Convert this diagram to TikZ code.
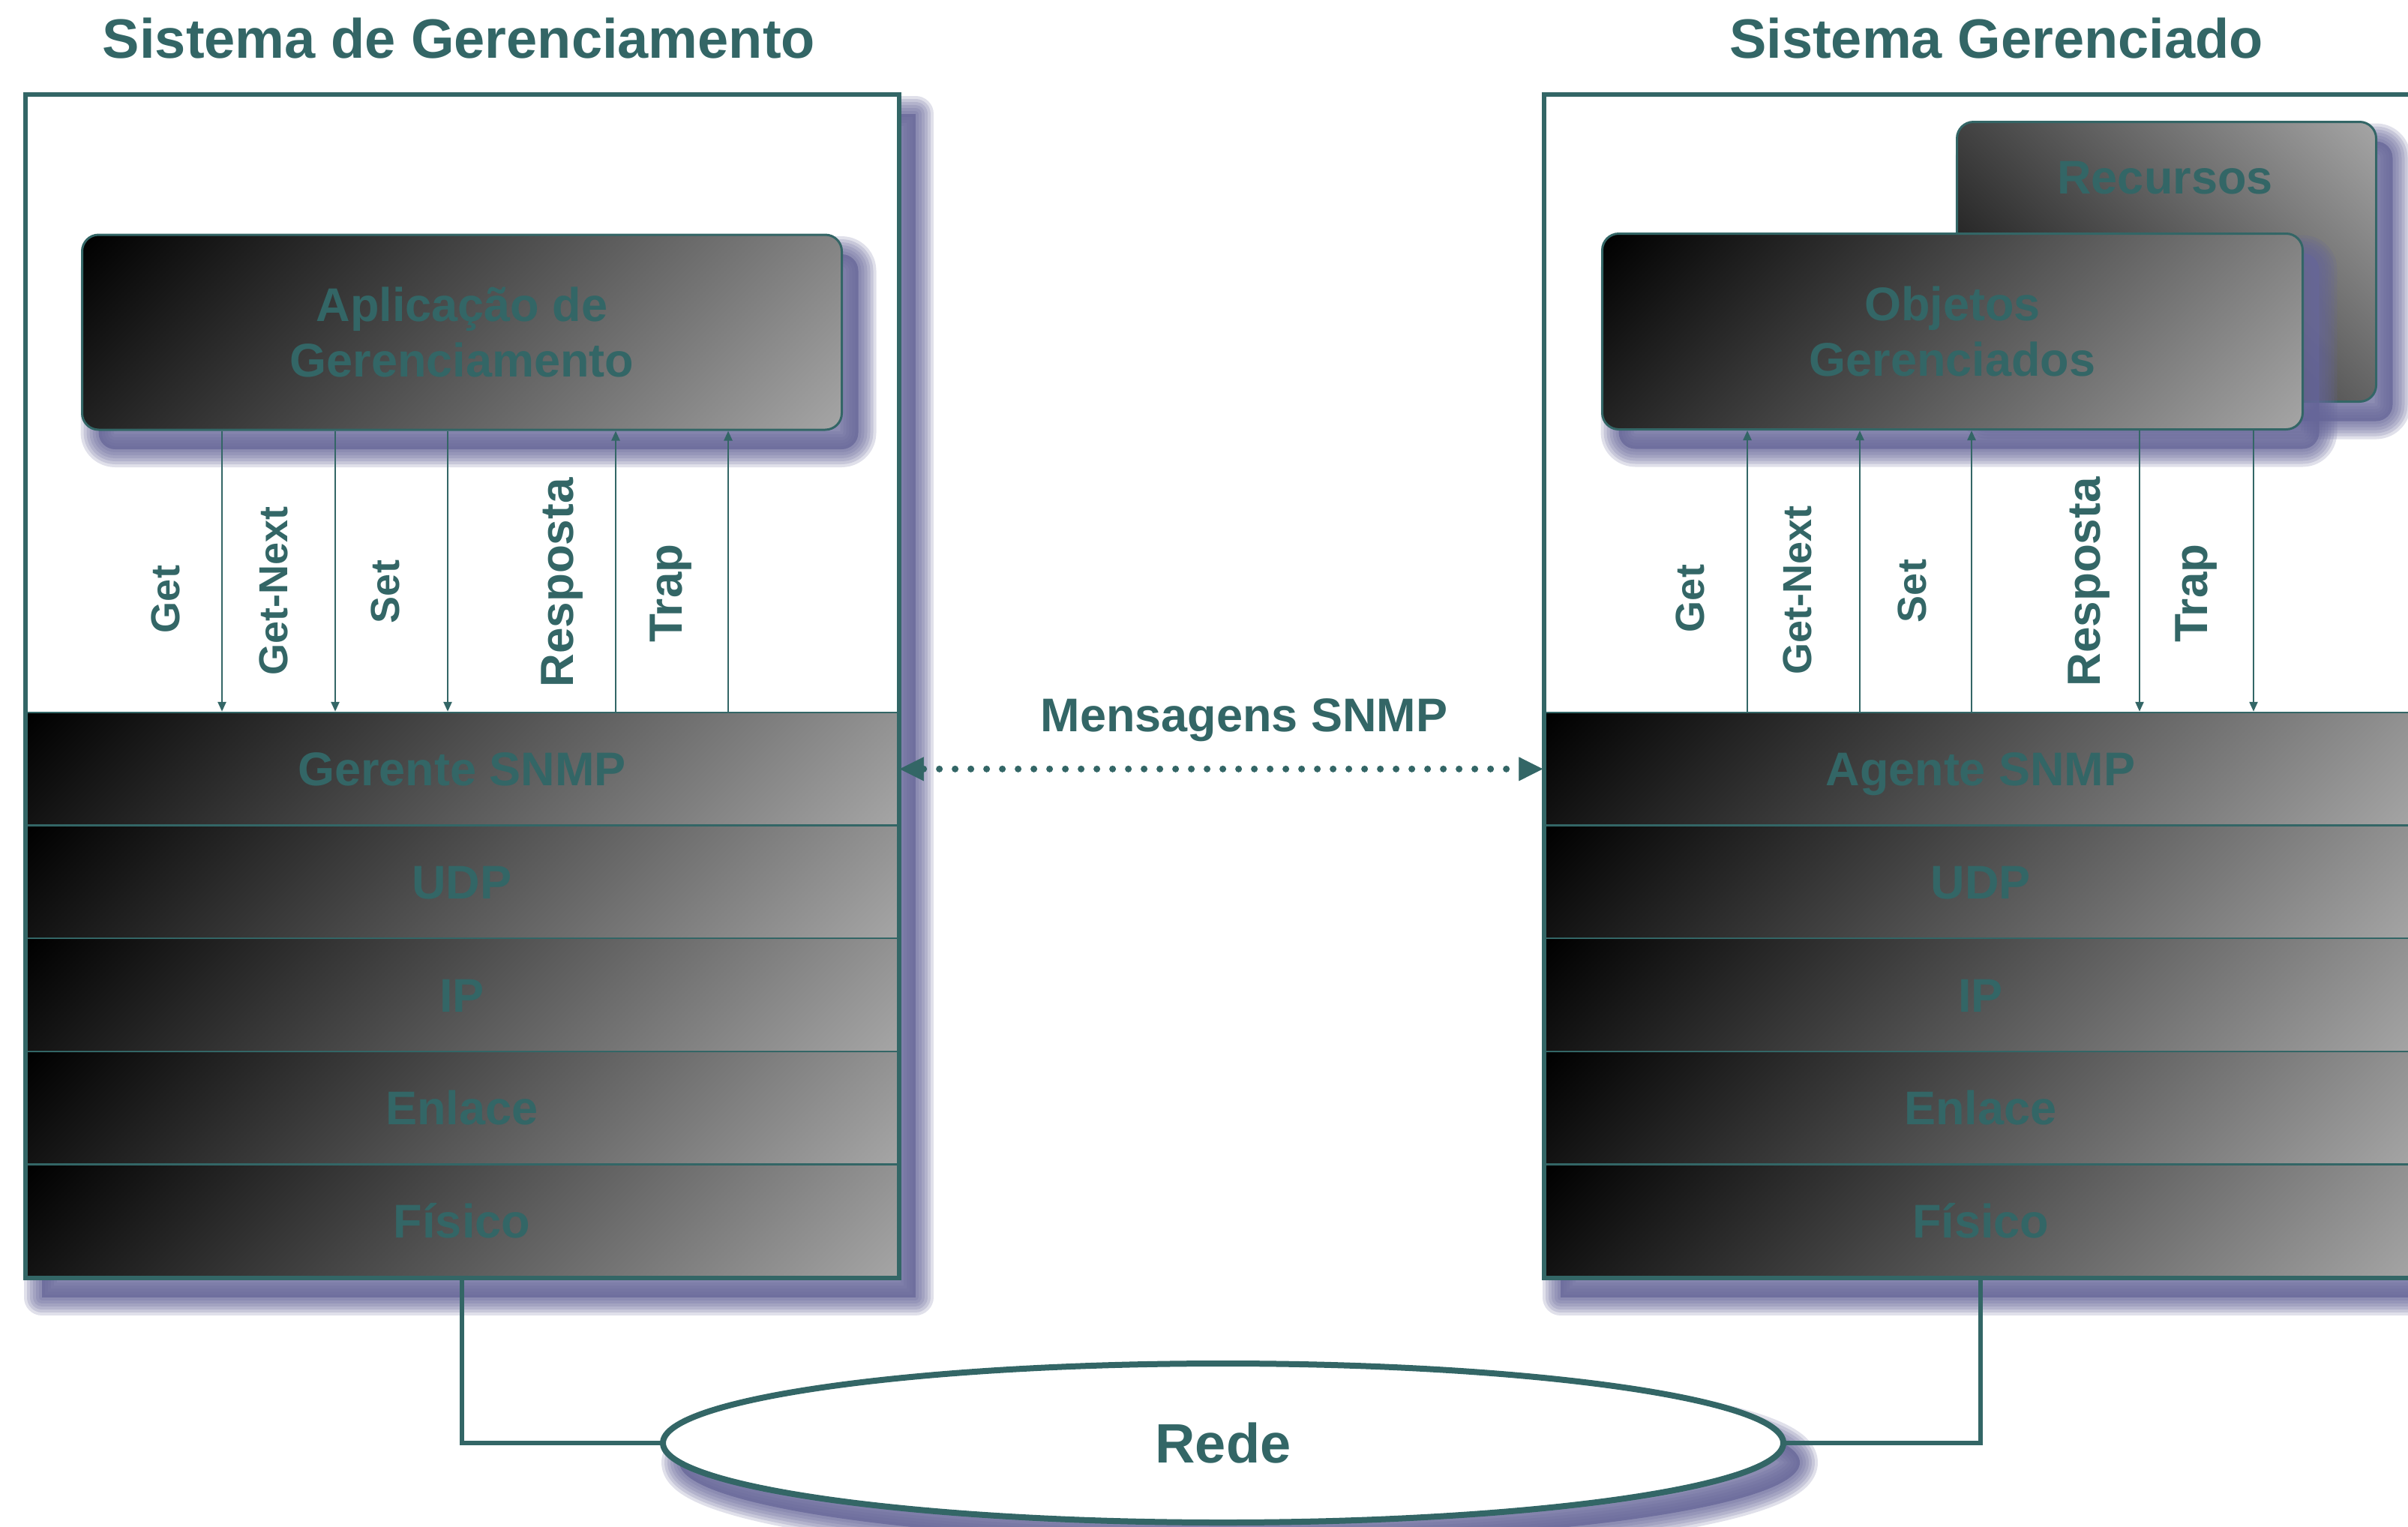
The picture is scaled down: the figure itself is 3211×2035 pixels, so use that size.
\documentclass[tikz,border=0pt]{standalone}
\usepackage{fontspec}
\setmainfont{Liberation Sans}
\usetikzlibrary{arrows.meta,shadows,shapes.geometric,calc}

\definecolor{tealc}{RGB}{51,102,102}
\definecolor{shadowc}{RGB}{102,102,153}
\definecolor{grayend}{RGB}{165,165,165}

% black-to-gray ramp; the middle 50bp maps onto the shaded path
\pgfdeclarehorizontalshading{diagramp}{100bp}{color(0bp)=(black); color(32.32bp)=(black);
  color(67.68bp)=(grayend); color(100bp)=(grayend)}

\newcommand{\boldsize}[2]{\fontsize{#1pt}{#2pt}\selectfont\bfseries}

\begin{document}
\begin{tikzpicture}[x=1pt, y=-1pt,
  shadowpass/.style={general shadow={shadow xshift=22pt, shadow yshift=-26pt,
      draw=shadowc, draw opacity=0.2, line width=#1, line join=round}},
  softshadow/.style={
      general shadow={shadow xshift=22pt, shadow yshift=-26pt, fill=shadowc, fill opacity=0.75},
      shadowpass=8pt, shadowpass=16pt, shadowpass=24pt, shadowpass=32pt,
      shadowpass=40pt, shadowpass=48pt},
  diagfill/.style 2 args={path picture={
      \shade[reset cm, shading=diagramp, shading angle=#1]
        ($(path picture bounding box.center)+(-#2,-#2)$) rectangle
        ($(path picture bounding box.center)+(#2,#2)$);}},
  sysframe/.style={draw=tealc, line width=6pt, fill=white, inner sep=0pt, outer sep=0pt,
      minimum width=1165pt, minimum height=1578pt, softshadow},
  framerim/.style={draw=tealc, line width=6pt},
  protolayer/.style={draw=tealc, line width=2.5pt, diagfill={-45}{657.8},
      inner sep=0pt, minimum width=1165pt, minimum height=150.6pt,
      text=tealc, font=\boldsize{63}{74}, text height=45pt, text depth=0pt},
  appbox/.style={draw=tealc, line width=3pt, rounded corners=22pt, inner sep=0pt,
      text=tealc, font=\boldsize{63}{74}, align=center, softshadow},
  systitle/.style={anchor=base, text=tealc, font=\boldsize{74}{88}, inner sep=0pt},
  midtext/.style={anchor=base, text=tealc, font=\boldsize{63}{74}, inner sep=0pt},
  oplabel/.style={rotate=90, anchor=base, text=tealc, inner sep=0pt},
  opsmall/.style={oplabel, font=\boldsize{54}{60}},
  opbig/.style={oplabel, font=\boldsize{62}{70}},
  sig/.style={draw=tealc, line width=2.5pt, -{Triangle[length=13pt,width=11pt]}},
  msg/.style={draw=tealc, line width=9pt, line cap=round, dash pattern=on 0pt off 21pt,
      {Triangle[length=32pt,width=32pt,line width=0.5pt]}-{Triangle[length=32pt,width=32pt,line width=0.5pt]}},
  netlink/.style={draw=tealc, line width=6pt},
]
\useasboundingbox (0,0) rectangle (3211,2035);
\fill[white] (0,0) rectangle (3211,2035);
\clip (0,0) rectangle (3211,2035);

% ---------- managing station ----------
\node[systitle] (gmtitle) at (612,77) {Sistema de Gerenciamento};
\node[sysframe] (gm) at (616,914.5) {};
\node[protolayer] (g1) at (616,1025.3) {Gerente SNMP};
\node[protolayer] (g2) at (616,1175.9) {UDP};
\node[protolayer] (g3) at (616,1326.5) {IP};
\node[protolayer] (g4) at (616,1477.1) {Enlace};
\node[protolayer] (g5) at (616,1627.7) {Físico};
\draw[framerim] (gm.south west) rectangle (gm.north east);

\node[appbox, diagfill={-45}{636.5}, minimum width=1013pt, minimum height=260pt]
  (app) at (616,443) {Aplicação de\\Gerenciamento};

\draw[sig] (app.south -| 296,0) -- (g1.north -| 296,0);
\draw[sig] (app.south -| 447,0) -- (g1.north -| 447,0);
\draw[sig] (app.south -| 597,0) -- (g1.north -| 597,0);
\draw[sig] (g1.north -| 821,0) -- (app.south -| 821,0);
\draw[sig] (g1.north -| 971,0) -- (app.south -| 971,0);

\node[opsmall] (gget)  at (239,799) {Get};
\node[opsmall] (gnext) at (383,788) {Get-Next};
\node[opsmall] (gset)  at (532,789) {Set};
\node[opbig]   (gresp) at (764,777) {Resposta};
\node[opbig]   (gtrap) at (909,791) {Trap};

% ---------- managed station ----------
\node[systitle] (mstitle) at (2662,77) {Sistema Gerenciado};
\node[sysframe] (ms) at (2641,914.5) {};
\node[protolayer] (a1) at (2641,1025.3) {Agente SNMP};
\node[protolayer] (a2) at (2641,1175.9) {UDP};
\node[protolayer] (a3) at (2641,1326.5) {IP};
\node[protolayer] (a4) at (2641,1477.1) {Enlace};
\node[protolayer] (a5) at (2641,1627.7) {Físico};
\draw[framerim] (ms.south west) rectangle (ms.north east);

\node[appbox, diagfill={45}{466}, minimum width=559pt, minimum height=373pt]
  (rec) at (2889,349) {};
\node[midtext] (reclbl) at (2887,258) {Recursos};
\node[appbox, diagfill={-45}{597.5}, minimum width=934pt, minimum height=261pt]
  (obj) at (2603.5,442) {Objetos\\Gerenciados};

\draw[sig] (a1.north -| 2330,0) -- (obj.south -| 2330,0);
\draw[sig] (a1.north -| 2480,0) -- (obj.south -| 2480,0);
\draw[sig] (a1.north -| 2629,0) -- (obj.south -| 2629,0);
\draw[sig] (obj.south -| 2853,0) -- (a1.north -| 2853,0);
\draw[sig] (obj.south -| 3005,0) -- (a1.north -| 3005,0);

\node[opsmall] (aget)  at (2272,798) {Get};
\node[opsmall] (anext) at (2415,787) {Get-Next};
\node[opsmall] (aset)  at (2568,788) {Set};
\node[opbig]   (aresp) at (2800,776) {Resposta};
\node[opbig]   (atrap) at (2943,791) {Trap};

% ---------- SNMP messages ----------
\node[midtext] (msglbl) at (1659,975) {Mensagens SNMP};
\draw[msg] (g1.east) -- (a1.west);

% ---------- network ----------
\node[ellipse, draw=tealc, line width=8pt, fill=white, minimum width=1494pt,
      minimum height=212pt, text=tealc, font=\boldsize{74}{88}, softshadow]
  (rede) at (1631,1924) {Rede};
\draw[netlink] (gm.south) |- (rede.west);
\draw[netlink] (ms.south) |- (rede.east);
\end{tikzpicture}
\end{document}
